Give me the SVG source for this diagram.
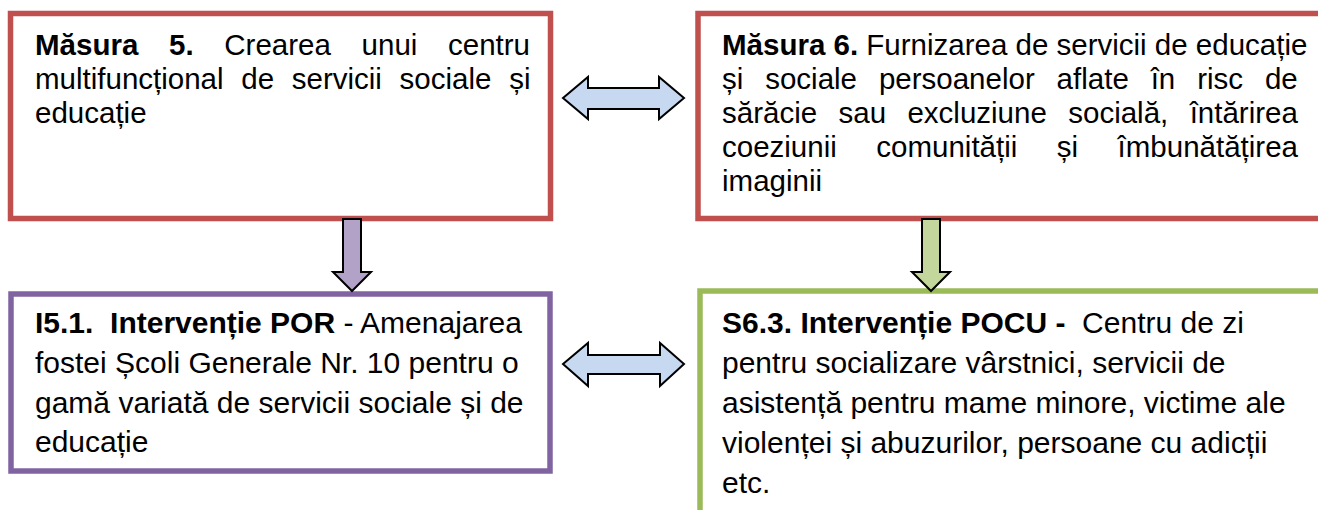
<svg xmlns="http://www.w3.org/2000/svg" width="1318" height="510" viewBox="0 0 1318 510">
<style>
.t{font-family:"Liberation Sans",Arial,sans-serif;font-size:29.5px;fill:#000}
.t2{font-family:"Liberation Sans",Arial,sans-serif;font-size:30px;fill:#000}
.b{font-weight:bold}
.box{fill:#fff;stroke-width:5.5}
.arr{stroke:#000;stroke-width:2;stroke-linejoin:miter}
</style>
<rect width="1318" height="510" fill="#fff"/>
<g id="m5">
<rect class="box" x="10.5" y="13.5" width="540" height="205" stroke="#C0504D"/>
<text class="t" x="35" y="55" word-spacing="22.5"><tspan class="b">Măsura 5.</tspan> Crearea unui centru</text>
<text class="t" x="35" y="89" word-spacing="9.5">multifuncțional de servicii sociale și</text>
<text class="t" x="35" y="123">educație</text>
</g>
<g id="m6">
<rect class="box" x="698" y="13.5" width="640" height="205" stroke="#C0504D"/>
<text class="t" x="722" y="55"><tspan class="b">Măsura 6.</tspan> Furnizarea de servicii de educație</text>
<text class="t" x="722" y="89" word-spacing="13.7">și sociale persoanelor aflate în risc de</text>
<text class="t" x="722" y="123" word-spacing="13.2">sărăcie sau excluziune socială, întărirea</text>
<text class="t" x="722" y="157" word-spacing="31.3">coeziunii comunității și îmbunătățirea</text>
<text class="t" x="722" y="191">imaginii</text>
</g>
<g id="i51">
<rect class="box" x="11" y="294" width="539" height="177" stroke="#8064A2"/>
<text class="t2" x="35" y="333"><tspan class="b">I5.1.&#160; Intervenție POR</tspan> - Amenajarea</text>
<text class="t2" x="35" y="373">fostei Școli Generale Nr. 10 pentru o</text>
<text class="t2" x="35" y="413">gamă variată de servicii sociale și de</text>
<text class="t2" x="35" y="452">educație</text>
</g>
<g id="s63">
<rect class="box" x="700" y="291" width="640" height="240" stroke="#9BBB59"/>
<text class="t2" x="722" y="333"><tspan class="b">S6.3. Intervenție POCU -</tspan>&#160; Centru de zi</text>
<text class="t2" x="722" y="373">pentru socializare vârstnici, servicii de</text>
<text class="t2" x="722" y="413">asistență pentru mame minore, victime ale</text>
<text class="t2" x="722" y="453">violenței și abuzurilor, persoane cu adicții</text>
<text class="t2" x="722" y="493">etc.</text>
</g>
<g id="connectors">
<path class="arr" fill="#C6D9F1" d="M563,98 L588,77 L588,88 L659,88 L659,77 L684,98 L659,119 L659,109 L588,109 L588,119 Z"/>
<path class="arr" fill="#C6D9F1" d="M563,364 L588,343 L588,355 L660,355 L660,343 L684,364 L660,386 L660,374 L588,374 L588,386 Z"/>
<path class="arr" fill="#B3A2C7" d="M343,219 L361,219 L361,272 L371,272 L352,291 L333,272 L343,272 Z"/>
<path class="arr" fill="#C3D69B" d="M922,219 L940,219 L940,272 L950,272 L931,291 L912,272 L922,272 Z"/>
</g>
</svg>
